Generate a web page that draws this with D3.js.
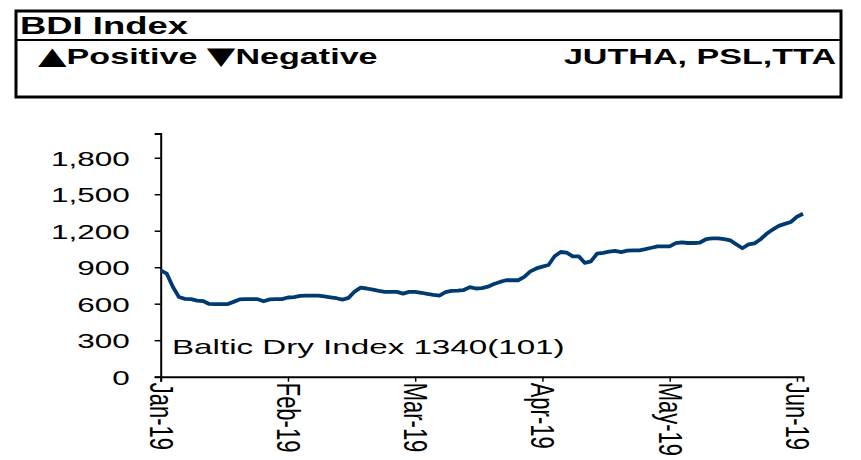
<!DOCTYPE html>
<html>
<head>
<meta charset="utf-8">
<script src="https://cdn.jsdelivr.net/npm/d3@7"></script>
<style>
  body { margin: 0; background: #fff; }
  svg { display: block; font-family: "Liberation Sans", Arial, sans-serif; }
</style>
</head>
<body>
<div id="chart"></div>
<script>
// BDI daily closes (trading days, Jan-19 to early Jun-19)
const bdi = [
  874, 847, 740, 655, 640, 637, 625, 622, 598, 596,
  596, 596, 615, 635, 637, 637, 637, 620, 636, 637,
  638, 651, 655, 665, 667, 667, 667, 660, 652, 645,
  634, 648, 700, 732, 725, 715, 705, 697, 697, 697,
  683, 697, 697, 690, 680, 672, 667, 695, 705, 707,
  712, 736, 725, 728, 740, 762, 779, 793, 793, 793,
  820, 866, 890, 905, 918, 990, 1025, 1020, 989, 989,
  935, 948, 1011, 1018, 1028, 1034, 1024, 1036, 1038, 1038,
  1048, 1060, 1071, 1071, 1071, 1098, 1105, 1099, 1099, 1103,
  1130, 1137, 1137, 1130, 1120, 1088, 1056, 1087, 1096, 1130,
  1175, 1210, 1240, 1256, 1272, 1315, 1340
];
const monthLabels = ["Jan-19", "Feb-19", "Mar-19", "Apr-19", "May-19", "Jun-19"];
const monthStart = [0, 21, 42, 63, 84, 105];   // index of first trading day shown for each month
const yTicks = [0, 300, 600, 900, 1200, 1500, 1800];
const seriesNote = "Baltic Dry Index 1340(101)";
const headTitle = "BDI Index";
const headStocks = "JUTHA, PSL,TTA";

const W = 861, H = 460;
const stretch = 1.5;   // the source picture is widened, text too

const svg = d3.select("#chart").append("svg")
  .attr("width", W).attr("height", H);

// ---- header box ----
const head = svg.append("g");
head.append("rect")
  .attr("x", 16).attr("y", 11).attr("width", 825).attr("height", 86)
  .attr("fill", "none").attr("stroke", "#000").attr("stroke-width", 3);
head.append("line")
  .attr("x1", 16).attr("x2", 841).attr("y1", 40).attr("y2", 40)
  .attr("stroke", "#000").attr("stroke-width", 2);

function wideText(g, x, y, size, anchor) {
  return g.append("g")
    .attr("transform", `translate(${x},${y}) scale(1.55,1)`)
    .append("text")
    .attr("text-anchor", anchor || "start")
    .attr("font-weight", "bold")
    .attr("font-size", size);
}
wideText(head, 20, 34, 23.5).text(headTitle);
const legend = wideText(head, 38, 64, 22);
legend.append("tspan").attr("font-size", 24).attr("font-family", "DejaVu Sans").text("\u25B2");
legend.append("tspan").text("Positive ");
legend.append("tspan").attr("font-size", 24).attr("font-family", "DejaVu Sans").text("\u25BC");
legend.append("tspan").text("Negative");
wideText(head, 836, 64, 22, "end").text(headStocks);

// ---- chart ----
const x = d3.scaleLinear().domain([0, bdi.length - 1]).range([160.7, 803]);
const y = d3.scaleLinear().domain([0, 2000]).range([376.7, 133.4]);

const yAxis = svg.append("g")
  .attr("transform", "translate(160.7,0)")
  .call(d3.axisLeft(y).tickValues(yTicks).tickSize(6).tickFormat(d3.format(",")));
yAxis.select(".domain").attr("stroke-width", 2);
yAxis.selectAll(".tick line").attr("stroke-width", 1.5);
yAxis.selectAll(".tick text")
  .attr("x", null).attr("dy", "0.35em")
  .attr("transform", `translate(-31,0) scale(${stretch},1)`)
  .attr("font-size", 21).attr("fill", "#000")
  .attr("font-family", "Liberation Sans, Arial, sans-serif");

const xAxis = svg.append("g")
  .attr("transform", "translate(0,376.7)")
  .call(d3.axisBottom(x).tickValues(monthStart).tickSize(5)
    .tickFormat(d => monthLabels[monthStart.indexOf(d)]));
xAxis.select(".domain").attr("stroke-width", 2);
xAxis.selectAll(".tick line").attr("stroke-width", 1.5);
xAxis.selectAll(".tick text")
  .attr("y", null).attr("dy", "0.35em")
  .attr("text-anchor", "start")
  .attr("transform", `translate(0,6) scale(${stretch},1) rotate(90)`)
  .attr("font-size", 22).attr("fill", "#000")
  .attr("font-family", "Liberation Sans, Arial, sans-serif");

svg.append("path")
  .datum(bdi)
  .attr("fill", "none")
  .attr("stroke", "#003a70")
  .attr("stroke-width", 3.8)
  .attr("stroke-linejoin", "round")
  .attr("d", d3.line().x((d, i) => x(i)).y(d => y(d)));

svg.append("g")
  .attr("transform", `translate(172,354) scale(1.58,1)`)
  .append("text")
  .attr("font-size", 21)
  .text(seriesNote);
</script>
</body>
</html>
